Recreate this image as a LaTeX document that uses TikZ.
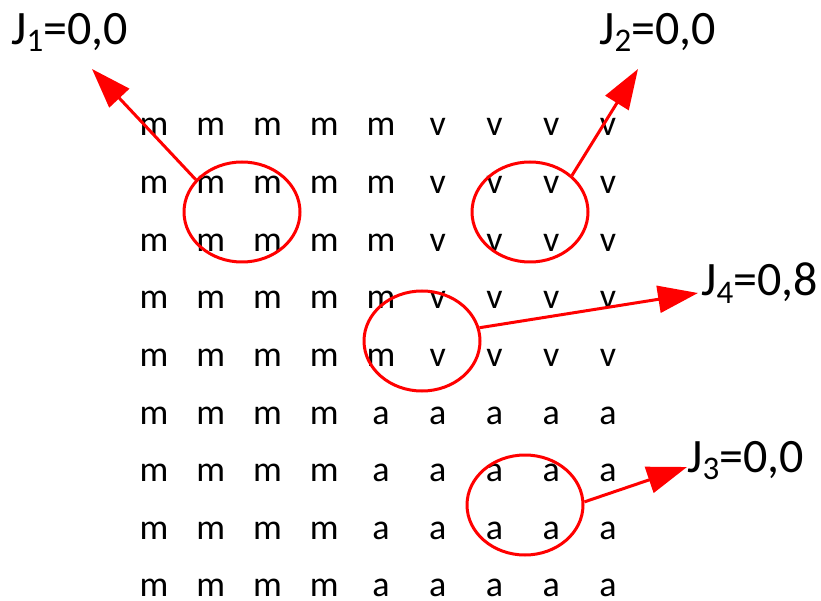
\documentclass[tikz,border=0pt]{standalone}
\usepackage{fontspec}
\setmainfont{Carlito}
\usetikzlibrary{shapes.geometric,arrows.meta}
\newcommand{\jlab}[2]{J\raisebox{-7pt}{\fontsize{33}{33}\selectfont #1}=#2}
\tikzset{
  letter/.style={inner sep=0pt, anchor=base, font=\fontsize{36}{36}\selectfont},
  ring/.style={ellipse, draw=red, line width=3pt, minimum width=116pt, minimum height=100pt, inner sep=0pt},
  jtext/.style={inner sep=0pt, anchor=base west, font=\fontsize{48}{48}\selectfont},
  jarrow/.style={draw=red, line width=3pt, -{Triangle[length=40pt,width=27pt]}}
}
\begin{document}
\begin{tikzpicture}[x=1pt, y=-1pt]
        \useasboundingbox (0,0) rectangle (821,601);
        \foreach \row [count=\r] in {{m,m,m,m,m,v,v,v,v},{m,m,m,m,m,v,v,v,v},{m,m,m,m,m,v,v,v,v},
                                     {m,m,m,m,m,v,v,v,v},{m,m,m,m,m,v,v,v,v},{m,m,m,m,a,a,a,a,a},
                                     {m,m,m,m,a,a,a,a,a},{m,m,m,m,a,a,a,a,a},{m,m,m,m,a,a,a,a,a}}{
            \foreach \ch [count=\c] in \row{
                \node[letter] (g-\r-\c) at ({154+56.75*(\c-1)}, {136+57.6*(\r-1)}) {\ch};
            }
        }
        \node[ring] (e1) at (242, 212) {};
        \node[ring] (e2) at (530, 212) {};
        \node[ring] (e3) at (422, 341) {};
        \node[ring] (e4) at (525, 505) {};
        \node[jtext] (j1) at (11, 45) {\jlab{1}{0,0}};
        \node[jtext] (j2) at (599, 45) {\jlab{2}{0,0}};
        \node[jtext] (j4) at (701, 296) {\jlab{4}{0,8}};
        \node[jtext] (j3) at (687, 472) {\jlab{3}{0,0}};
        \coordinate (t1) at (92, 69);
        \coordinate (t2) at (638, 69);
        \coordinate (t4) at (698, 293);
        \coordinate (t3) at (687, 467);
        \draw[jarrow] (e1.145) -- (t1);
        \draw[jarrow] (e2.41) -- (t2);
        \draw[jarrow] (e3.13) -- (t4);
        \draw[jarrow] (e4.3) -- (t3);
    \end{tikzpicture}
\end{document}
